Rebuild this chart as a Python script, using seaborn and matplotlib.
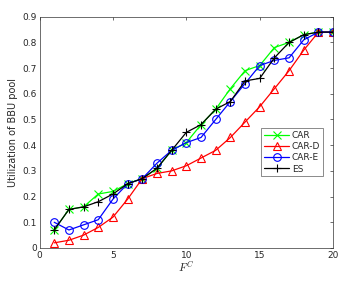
import matplotlib
matplotlib.use("Agg")
import matplotlib.pyplot as plt
import seaborn as sns
import pandas as pd

fc = list(range(1, 21))
car = [0.07, 0.15, 0.16, 0.21, 0.22, 0.25, 0.27, 0.31, 0.38, 0.41, 0.48, 0.54, 0.62, 0.69, 0.71, 0.78, 0.80, 0.83, 0.84, 0.84]
car_d = [0.02, 0.03, 0.05, 0.08, 0.12, 0.19, 0.27, 0.29, 0.30, 0.32, 0.35, 0.38, 0.43, 0.49, 0.55, 0.62, 0.69, 0.77, 0.84, 0.84]
car_e = [0.10, 0.07, 0.09, 0.11, 0.19, 0.25, 0.27, 0.33, 0.38, 0.41, 0.43, 0.50, 0.57, 0.64, 0.71, 0.73, 0.74, 0.81, 0.84, 0.84]
es = [0.07, 0.15, 0.16, 0.18, 0.21, 0.25, 0.27, 0.31, 0.38, 0.45, 0.48, 0.54, 0.57, 0.65, 0.66, 0.74, 0.80, 0.83, 0.84, 0.84]

series = [("CAR", car, "#00ff00", "x"), ("CAR-D", car_d, "#ff0000", "^"),
          ("CAR-E", car_e, "#0000ff", "o"), ("ES", es, "#000000", "+")]

sns.set_style("white")
plt.rcParams['font.family'] = ['DejaVu Sans']
plt.rcParams['mathtext.fontset'] = 'cm'

fig = plt.figure(figsize=(3.47, 2.88), dpi=100)
ax = fig.add_axes([0.114, 0.139, 0.846, 0.803])

for name, vals, col, mk in series:
    df = pd.DataFrame({"x": fc, "y": vals})
    sns.lineplot(data=df, x="x", y="y", ax=ax, color=col, marker=mk, label=name,
                 linewidth=0.9, markersize=5.5, markerfacecolor='none',
                 markeredgecolor=col, markeredgewidth=0.8)

ax.set_xlim(0, 20)
ax.set_ylim(0, 0.9)
ax.set_xticks([0, 5, 10, 15, 20])
ax.set_yticks([i / 10 for i in range(10)])
ax.set_yticklabels(["0"] + [f"{i/10:.1f}" for i in range(1, 10)])
ax.tick_params(direction='in', length=2.5, width=0.5, labelsize=6.5, top=True, right=True,
               colors='#333333', labelcolor='#262626', pad=2)
for s in ax.spines.values():
    s.set_linewidth(0.5)
    s.set_color('#333333')
ax.set_xlabel("$F^C$", fontsize=8, labelpad=0)
ax.set_ylabel("Utilization of BBU pool", fontsize=7, labelpad=3, color='#262626')

leg = ax.legend(loc='upper left', bbox_to_anchor=(0.755, 0.518), fontsize=6.5,
                frameon=True, fancybox=False, edgecolor='#333333', borderpad=0.3,
                handlelength=2.8, labelspacing=0.25, handletextpad=0.3, borderaxespad=0)
leg.get_frame().set_linewidth(0.5)

fig.savefig("out.png", dpi=100)
